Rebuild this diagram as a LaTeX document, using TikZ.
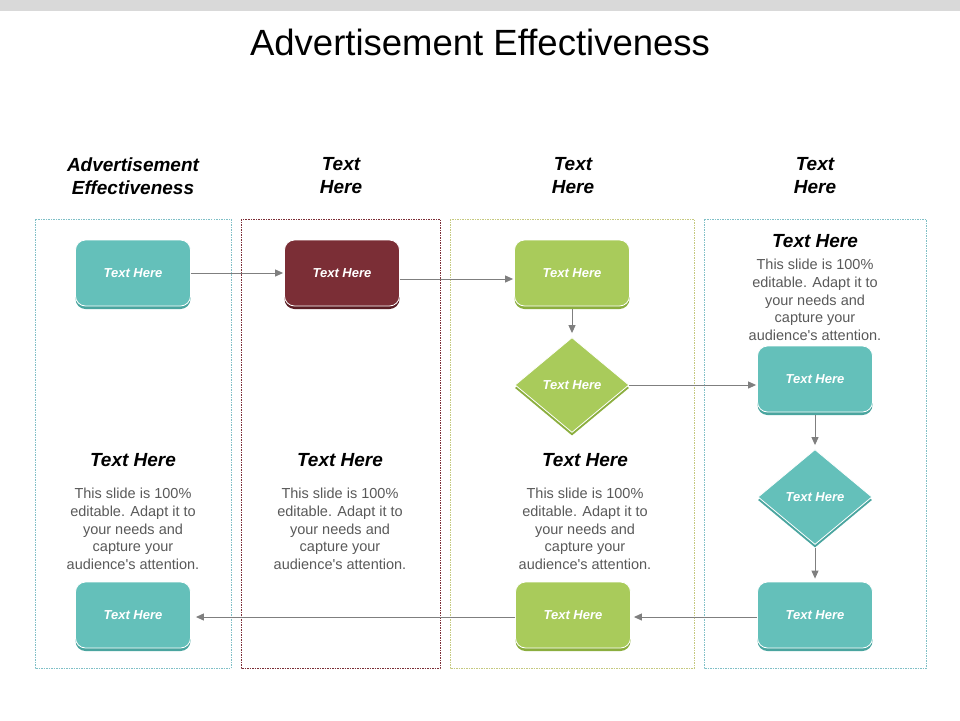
\documentclass[tikz,border=0pt]{standalone}
\usepackage{fontspec}
\setmainfont{Liberation Sans}
\usetikzlibrary{shapes.geometric,arrows.meta}
\definecolor{cteal}{HTML}{64C0BA}
\definecolor{cteald}{HTML}{4AA59F}
\definecolor{cred}{HTML}{7B2E36}
\definecolor{credd}{HTML}{5A1D24}
\definecolor{cgreen}{HTML}{A9CB5B}
\definecolor{cgreend}{HTML}{8BAE3E}
\definecolor{bodygray}{HTML}{595959}
\definecolor{arrowgray}{HTML}{7F7F7F}
\definecolor{topbar}{HTML}{D9D9D9}
\definecolor{lteal}{HTML}{7FBFC6}
\definecolor{lred}{HTML}{7B2E36}
\definecolor{lgreen}{HTML}{C5C97F}
\tikzset{
  rbox/.style={rectangle, rounded corners=10pt, minimum width=115pt, minimum height=66pt, inner sep=0pt,
    fill=#1, draw=white, line width=0.8pt, text=white, font=\fontsize{13}{15}\selectfont\bfseries\itshape},
  rshadow/.style={rectangle, rounded corners=10pt, minimum width=115pt, minimum height=66pt, inner sep=0pt, fill=#1},
  dbox/.style={diamond, aspect=1.2, minimum width=114pt, minimum height=95pt, inner sep=0pt,
    fill=#1, draw=white, line width=0.8pt, text=white, font=\fontsize{13}{15}\selectfont\bfseries\itshape},
  dshadow/.style={diamond, aspect=1.2, minimum width=114pt, minimum height=95pt, inner sep=0pt, fill=#1},
  colframe/.style={draw=#1, line width=0.6pt, dash pattern=on 1.5pt off 1pt},
  conn/.style={draw=arrowgray, line width=1pt, -{Triangle[length=8pt,width=7pt]}},
  colhead/.style={align=center, font=\fontsize{19}{23}\selectfont\bfseries\itshape, text=black},
  subhead/.style={align=center, font=\fontsize{19}{22}\selectfont\bfseries\itshape, text=black},
  bodytxt/.style={align=center, font=\fontsize{14.5}{17.6}\selectfont, text=bodygray},
}
\begin{document}
\begin{tikzpicture}[x=1pt,y=-1pt]
\useasboundingbox (0,0) rectangle (960,720);
\fill[topbar] (0,0) rectangle (960,11);
\node[font=\fontsize{36.5}{42}\selectfont, text=black] (title) at (480,42) {Advertisement Effectiveness};

% column headers
\node[colhead] (h1) at (133,176) {Advertisement\\Effectiveness};
\node[colhead] (h2) at (341,176) {Text\\Here};
\node[colhead] (h3) at (573,176) {Text\\Here};
\node[colhead] (h4) at (815,176) {Text\\Here};

% column frames
\draw[colframe=lteal] (35,219) rectangle (231,668);
\draw[colframe=lred] (241,219) rectangle (440,668);
\draw[colframe=lgreen] (450,219) rectangle (694,668);
\draw[colframe=lteal] (704,219) rectangle (926,668);

% text blocks
\node[subhead] (s1) at (133,460) {Text Here};
\node[bodytxt] (t1) at (133,529) {This slide is 100\%\\editable. Adapt it to\\your needs and\\capture your\\audience\textquotesingle s attention.};
\node[subhead] (s2) at (340,460) {Text Here};
\node[bodytxt] (t2) at (340,529) {This slide is 100\%\\editable. Adapt it to\\your needs and\\capture your\\audience\textquotesingle s attention.};
\node[subhead] (s3) at (585,460) {Text Here};
\node[bodytxt] (t3) at (585,529) {This slide is 100\%\\editable. Adapt it to\\your needs and\\capture your\\audience\textquotesingle s attention.};
\node[subhead] (s4) at (815,241) {Text Here};
\node[bodytxt] (t4) at (815,300) {This slide is 100\%\\editable. Adapt it to\\your needs and\\capture your\\audience\textquotesingle s attention.};

% shapes with shadows
\node[rshadow=cteald] (a0) at (133,276) {};
\node[rbox=cteal] (a) at (133,273) {Text Here};
\node[rshadow=credd] (b0) at (342,276) {};
\node[rbox=cred] (b) at (342,273) {Text Here};
\node[rshadow=cgreend] (c0) at (572,276) {};
\node[rbox=cgreen] (c) at (572,273) {Text Here};
\node[dshadow=cgreend] (d0) at (572,388) {};
\node[dbox=cgreen] (d) at (572,385) {Text Here};
\node[rshadow=cteald] (e0) at (815,382) {};
\node[rbox=cteal] (e) at (815,379) {Text Here};
\node[dshadow=cteald] (f0) at (815,500) {};
\node[dbox=cteal] (f) at (815,497) {Text Here};
\node[rshadow=cteald] (g0) at (815,618) {};
\node[rbox=cteal] (g) at (815,615) {Text Here};
\node[rshadow=cgreend] (hh0) at (573,618) {};
\node[rbox=cgreen] (hh) at (573,615) {Text Here};
\node[rshadow=cteald] (i0) at (133,618) {};
\node[rbox=cteal] (i) at (133,615) {Text Here};

% connectors
\draw[conn] (a.east) -- ([xshift=-1pt]b.west);
\draw[conn] ([yshift=-6pt]b.east) -- ([yshift=-6pt,xshift=-1pt]c.west);
\draw[conn] (c0.south) -- ([yshift=4pt]d.north);
\draw[conn] (d.east) -- ([xshift=-1pt]d.east -| e.west);
\draw[conn] (e0.south) -- ([yshift=4pt]f.north);
\draw[conn] (f0.south) -- ([yshift=3pt]g.north);
\draw[conn] ([yshift=-2pt]g.west) -- ([yshift=-2pt,xshift=3pt]hh.east);
\draw[conn] ([yshift=-2pt]hh.west) -- ([yshift=-2pt,xshift=5pt]i.east);
\end{tikzpicture}
\end{document}
